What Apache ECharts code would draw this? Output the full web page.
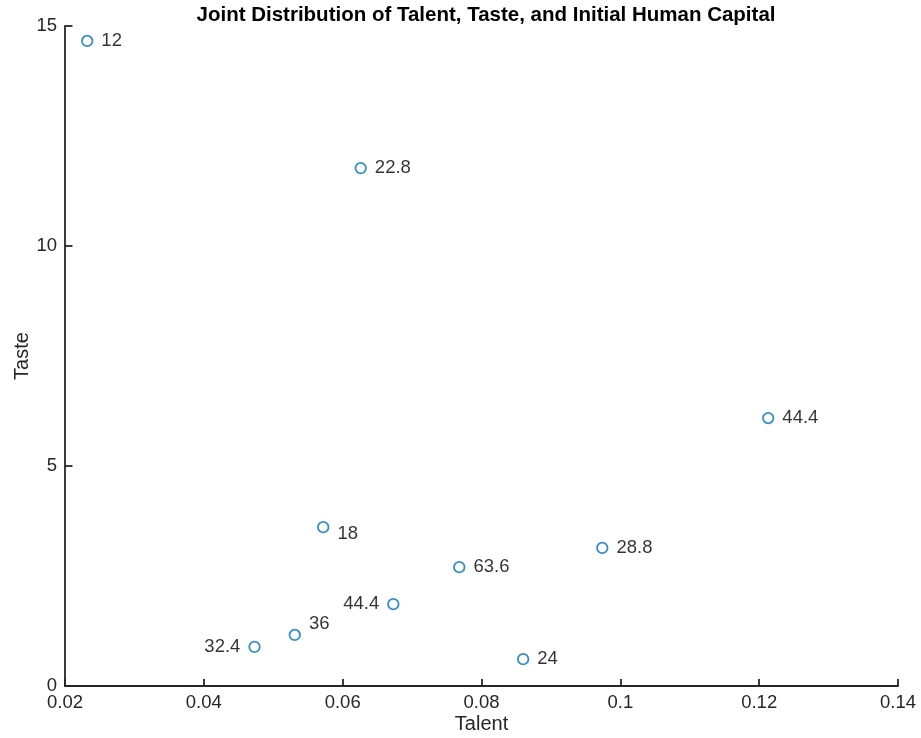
<!DOCTYPE html>
<html>
<head>
<meta charset="utf-8">
<script src="https://cdn.jsdelivr.net/npm/echarts@6/dist/echarts.min.js"></script>
<style>
  html, body { margin: 0; padding: 0; background: #fff; }
  #chart { width: 921px; height: 738px; }
</style>
</head>
<body>
<div id="chart"></div>
<script>
// Talent (x), taste (y) and initial human capital (point label)
const talent  = [0.0232, 0.0626, 0.1213, 0.0572, 0.0768, 0.0974, 0.0673, 0.0531, 0.0473, 0.0860];
const taste   = [14.66, 11.77, 6.09, 3.61, 2.70, 3.14, 1.86, 1.16, 0.89, 0.61];
const capital = ['12', '22.8', '44.4', '18', '63.6', '28.8', '44.4', '36', '32.4', '24'];

// Where each value label sits relative to its marker
const labelSide = ['right', 'right', 'right', 'right', 'right', 'right', 'left', 'right', 'left', 'right'];
const labelShift = [[0, 0], [0, 0], [0, 0], [0, 7], [0, 0], [0, 0], [0, 0], [0, -11], [0, 0], [0, 0]];

const fontFamily = '"Liberation Sans", Arial, Helvetica, sans-serif';
const axisColor = '#262626';

const points = talent.map((x, i) => ({
  value: [x, taste[i]],
  label: {
    show: true,
    formatter: capital[i],
    position: labelSide[i],
    offset: labelShift[i],
    distance: 8,
    color: '#000',
    fontSize: 18.5,
    fontFamily: fontFamily
  }
}));

const chart = echarts.init(document.getElementById('chart'), null, { renderer: 'canvas' });
chart.setOption({
  animation: false,
  backgroundColor: '#fff',
  title: {
    text: 'Joint Distribution of Talent, Taste, and Initial Human Capital',
    left: 481,
    textAlign: 'center',
    top: 0,
    textStyle: { fontSize: 20.5, fontWeight: 'bold', color: '#000', fontFamily: fontFamily }
  },
  grid: { left: 65, right: 23, top: 26, bottom: 52, containLabel: false, outerBoundsMode: 'none' },
  xAxis: {
    type: 'value',
    min: 0.02, max: 0.14, interval: 0.02,
    name: 'Talent',
    nameLocation: 'middle',
    nameGap: 28,
    nameMoveOverlap: false,
    nameTextStyle: { fontSize: 20, color: axisColor, fontFamily: fontFamily },
    axisLine: { show: true, lineStyle: { color: axisColor, width: 1.8 } },
    axisTick: { show: true, inside: true, length: 7, lineStyle: { color: axisColor, width: 1.8 } },
    axisLabel: { fontSize: 18.5, color: axisColor, margin: 7, fontFamily: fontFamily,
      formatter: v => String(Math.round(v * 100) / 100) },
    splitLine: { show: false }
  },
  yAxis: {
    type: 'value',
    min: 0, max: 15, interval: 5,
    name: 'Taste',
    nameLocation: 'middle',
    nameGap: 33,
    nameMoveOverlap: false,
    nameTextStyle: { fontSize: 20, color: axisColor, fontFamily: fontFamily },
    axisLine: { show: true, lineStyle: { color: axisColor, width: 1.8 } },
    axisTick: { show: true, inside: true, length: 7.5, lineStyle: { color: axisColor, width: 1.8 } },
    axisLabel: { fontSize: 18.5, color: axisColor, margin: 8, fontFamily: fontFamily },
    splitLine: { show: false }
  },
  series: [{
    type: 'scatter',
    symbol: 'circle',
    symbolSize: 10.5,
    itemStyle: { color: 'rgba(0,0,0,0)', borderColor: '#0072BD', borderWidth: 1.8 },
    data: points
  }]
});
</script>
</body>
</html>
